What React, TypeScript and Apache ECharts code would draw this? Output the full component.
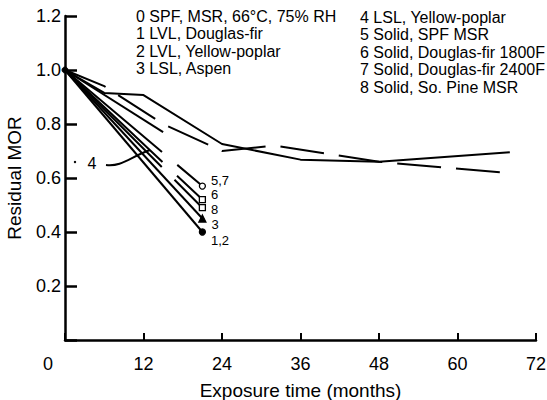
import React, { useEffect, useRef } from "react";
import * as echarts from "echarts";

// ---- data ----
const xTicks = [0, 12, 24, 36, 48, 60, 72];
const yTicks = [0.2, 0.4, 0.6, 0.8, 1.0, 1.2];

const months0Solid = [0, 6, 12, 24, 36, 48, 68];
const mor0Solid = [1.0, 0.915, 0.907, 0.726, 0.668, 0.66, 0.695];
const months0Dashed = [0, 6, 15, 24, 32, 48, 67];
const mor0Dashed = [1.0, 0.94, 0.8, 0.7, 0.72, 0.66, 0.62];

const shortMonths = [0, 21];
const mor12 = [1.0, 0.4];
const mor3 = [1.0, 0.45];
const mor8 = [1.0, 0.49];
const mor6 = [1.0, 0.52];
const mor57 = [1.0, 0.57];
const months4 = [0, 15];
const mor4 = [1.0, 0.77];

const legendLeft = [
  "0 SPF, MSR, 66°C, 75% RH",
  "1 LVL, Douglas-fir",
  "2 LVL, Yellow-poplar",
  "3 LSL, Aspen",
];
const legendRight = [
  "4 LSL, Yellow-poplar",
  "5 Solid, SPF MSR",
  "6 Solid, Douglas-fir 1800F",
  "7 Solid, Douglas-fir 2400F",
  "8 Solid, So. Pine MSR",
];

const FONT = "'Liberation Sans', Arial, Helvetica, sans-serif";
const INK = "#000";

function pairs(xs: number[], ys: number[]) {
  return xs.map((x, i) => [x, ys[i]]);
}

function shortSeries(
  ys: number[],
  label: string,
  symbol: string,
  filled: boolean,
  dash: number[] | "solid",
  labelOffsetY: number,
  startDot = false
) {
  const d = pairs(shortMonths, ys);
  return {
    type: "line",
    data: [
      startDot
        ? { value: d[0], symbol: "circle", symbolSize: 6, itemStyle: { color: INK, borderColor: INK } }
        : { value: d[0], symbol: "none" },
      {
        value: d[1],
        symbol,
        symbolSize: symbol === "triangle" ? 7 : 6,
        itemStyle: { color: filled ? INK : "#fff", borderColor: INK, borderWidth: 1.3 },
        label: {
          show: true,
          position: "right",
          distance: 5,
          offset: [0, labelOffsetY],
          formatter: label,
          color: INK,
          fontFamily: FONT,
          fontSize: 13,
          lineHeight: 13,
        },
      },
    ],
    lineStyle: { color: INK, width: 2, type: dash },
    showSymbol: true,
    z: 3,
  };
}

export default function App() {
  const ref = useRef<HTMLDivElement>(null);

  useEffect(() => {
    if (!ref.current) return;
    const chart = echarts.init(ref.current, null, { renderer: "svg" });

    const legendGraphics: any[] = [];
    legendLeft.forEach((t, i) => {
      legendGraphics.push({
        type: "text",
        style: {
          text: t,
          x: 136,
          y: 16 + i * 17.5,
          fill: INK,
          fontFamily: FONT,
          fontSize: 16,
          verticalAlign: "middle",
        },
      });
    });
    legendRight.forEach((t, i) => {
      legendGraphics.push({
        type: "text",
        style: {
          text: t,
          x: 360,
          y: 17 + i * 17.5,
          fill: INK,
          fontFamily: FONT,
          fontSize: 16,
          verticalAlign: "middle",
        },
      });
    });

    const option: any = {
      animation: false,
      backgroundColor: "#fff",
      grid: {
        left: 65,
        right: 11,
        top: 16,
        bottom: 60,
        containLabel: false,
        outerBoundsMode: "none",
      },
      xAxis: {
        type: "value",
        min: 0,
        max: 72,
        interval: 12,
        name: "Exposure time (months)",
        nameLocation: "middle",
        nameGap: 41,
        nameTextStyle: { color: INK, fontFamily: FONT, fontSize: 19 },
        axisLine: { show: true, onZero: false, lineStyle: { color: INK, width: 2.5 } },
        axisTick: { show: true, inside: true, length: 7, lineStyle: { color: INK, width: 2 } },
        splitLine: { show: false },
        axisLabel: {
          color: INK,
          fontFamily: FONT,
          fontSize: 18,
          margin: 15,
          formatter: (v: number) => (v === 0 ? "{z|0}" : xTicks.includes(v) ? String(v) : ""),
          rich: { z: { fontFamily: FONT, fontSize: 18, color: INK, padding: [0, 34, 0, 0] } },
        },
      },
      yAxis: {
        type: "value",
        min: 0,
        max: 1.2,
        interval: 0.2,
        name: "Residual MOR",
        nameLocation: "middle",
        nameGap: 41,
        nameTextStyle: { color: INK, fontFamily: FONT, fontSize: 19 },
        axisLine: { show: true, onZero: false, lineStyle: { color: INK, width: 2.5 } },
        axisTick: { show: true, inside: true, length: 12, lineStyle: { color: INK, width: 2.5 } },
        splitLine: { show: false },
        axisLabel: {
          color: INK,
          fontFamily: FONT,
          fontSize: 18,
          margin: 4,
          formatter: (v: number) => (v === 0 ? "" : yTicks.includes(Math.round(v * 10) / 10) ? v.toFixed(1) : ""),
        },
      },
      series: [
        {
          type: "line",
          data: pairs(months0Solid, mor0Solid),
          symbol: "none",
          lineStyle: { color: INK, width: 2, type: "solid" },
          z: 2,
        },
        {
          type: "line",
          data: pairs(months0Dashed, mor0Dashed).map((p, i, arr) =>
            i === arr.length - 1
              ? {
                  value: p,
                  label: {
                    show: true,
                    position: "right",
                    distance: 9,
                    formatter: "0",
                    color: INK,
                    fontFamily: FONT,
                    fontSize: 16,
                  },
                }
              : { value: p }
          ),
          symbol: "none",
          showSymbol: true,
          lineStyle: { color: INK, width: 2, type: [44, 15] },
          z: 2,
        },
        {
          type: "line",
          data: pairs(months4, mor4),
          symbol: "none",
          lineStyle: { color: INK, width: 2, type: "solid" },
          z: 2,
        },
        shortSeries(mor57, "5,7", "circle", false, [127, 20], -6),
        shortSeries(mor6, "6", "rect", false, [134, 20], -5),
        shortSeries(mor8, "8", "rect", false, [137, 18], 2),
        shortSeries(mor3, "3", "triangle", true, "solid", 6),
        shortSeries(mor12, "1,2", "circle", true, "solid", 8, true),
      ],
      graphic: [
        ...legendGraphics,
        {
          type: "circle",
          shape: { cx: 75, cy: 162, r: 1.2 },
          style: { fill: INK },
        },
        {
          type: "text",
          style: {
            text: "4",
            x: 92,
            y: 163,
            fill: INK,
            fontFamily: FONT,
            fontSize: 16,
            align: "center",
            verticalAlign: "middle",
          },
        },
        {
          type: "bezierCurve",
          shape: { x1: 106, y1: 165, cpx1: 122, cpy1: 167, cpx2: 130, cpy2: 157, x2: 150, y2: 150 },
          style: { stroke: INK, lineWidth: 2, fill: "none" },
        },
      ],
    };

    chart.setOption(option);
    return () => chart.dispose();
  }, []);

  return (
    <div
      ref={ref}
      style={{ position: "fixed", left: 0, top: 0, width: 547, height: 400, background: "#fff" }}
    />
  );
}
